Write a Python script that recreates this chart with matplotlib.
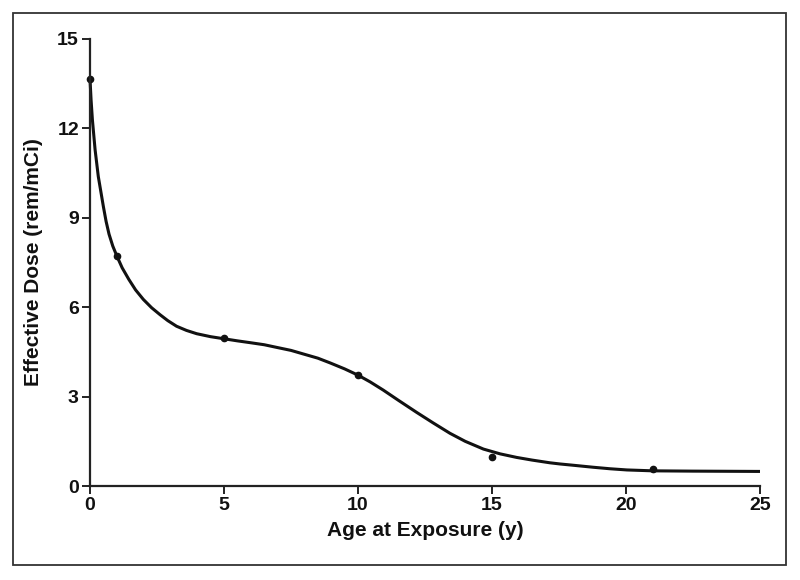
import numpy as np
import matplotlib.pyplot as plt
from matplotlib.patches import Rectangle

plt.rcParams['font.family'] = ['Liberation Sans', 'DejaVu Sans']
plt.rcParams['font.weight'] = 'bold'

# measured doses
age = [0, 1, 5, 10, 15, 21]
dose = [13.65, 7.7, 4.95, 3.72, 0.97, 0.58]

# fitted curve
curve_x = [0, 0.04, 0.09, 0.19, 0.31, 0.50, 0.60, 0.71, 0.85, 1.0, 1.2, 1.45, 1.7, 1.99,
           2.3, 2.61, 2.9, 3.23, 3.6, 3.98, 4.5, 5.0, 5.5, 5.97, 6.5, 6.97, 7.5, 7.96,
           8.5, 8.96, 9.5, 10.0, 10.45, 10.94, 11.5, 12.19, 12.8, 13.43, 14.0, 14.68,
           15.3, 15.92, 16.5, 17.16, 17.54, 18.0, 18.78, 19.4, 20.03, 21.0, 22.5, 25.0]
curve_y = [13.65, 12.95, 12.28, 11.28, 10.38, 9.37, 8.88, 8.45, 8.05, 7.72, 7.32, 6.93, 6.58, 6.26,
           5.98, 5.75, 5.55, 5.36, 5.22, 5.11, 5.01, 4.94, 4.87, 4.81, 4.74, 4.65, 4.55, 4.43,
           4.29, 4.13, 3.93, 3.72, 3.495, 3.22, 2.88, 2.47, 2.12, 1.77, 1.50, 1.24,
           1.08, 0.96, 0.87, 0.78, 0.74, 0.70, 0.63, 0.58, 0.54, 0.51, 0.50, 0.49]

fig = plt.figure(figsize=(8, 5.8), dpi=100)
ax = fig.add_axes([0.1125, 0.162, 0.8375, 0.771])

ax.plot(curve_x, curve_y, color='#111111', lw=2.2, solid_joinstyle='round',
        solid_capstyle='butt', clip_on=False)
ax.plot(age, dose, 'o', color='#111111', ms=4.5, clip_on=False)

ax.set_xlim(0, 25)
ax.set_ylim(0, 15)
ax.set_xticks([0, 5, 10, 15, 20, 25])
ax.set_yticks([0, 3, 6, 9, 12, 15])
for s in ['top', 'right']:
    ax.spines[s].set_visible(False)
for s in ['left', 'bottom']:
    ax.spines[s].set_linewidth(1.6)
    ax.spines[s].set_color('#222222')
ax.tick_params(direction='out', length=6, width=1.4, color='#222222',
               labelsize=14, pad=2, labelcolor='#111111')

ax.set_xlabel('Age at Exposure (y)', fontsize=15, fontweight='bold', labelpad=5, color='#111111')
ax.set_ylabel('Effective Dose (rem/mCi)', fontsize=15, fontweight='bold', labelpad=10, color='#111111')

fig.patches.append(Rectangle((0.016, 0.026), 0.967, 0.952, transform=fig.transFigure,
                             fill=False, edgecolor='#333333', lw=1.3))

fig.savefig('out.png', dpi=100)
